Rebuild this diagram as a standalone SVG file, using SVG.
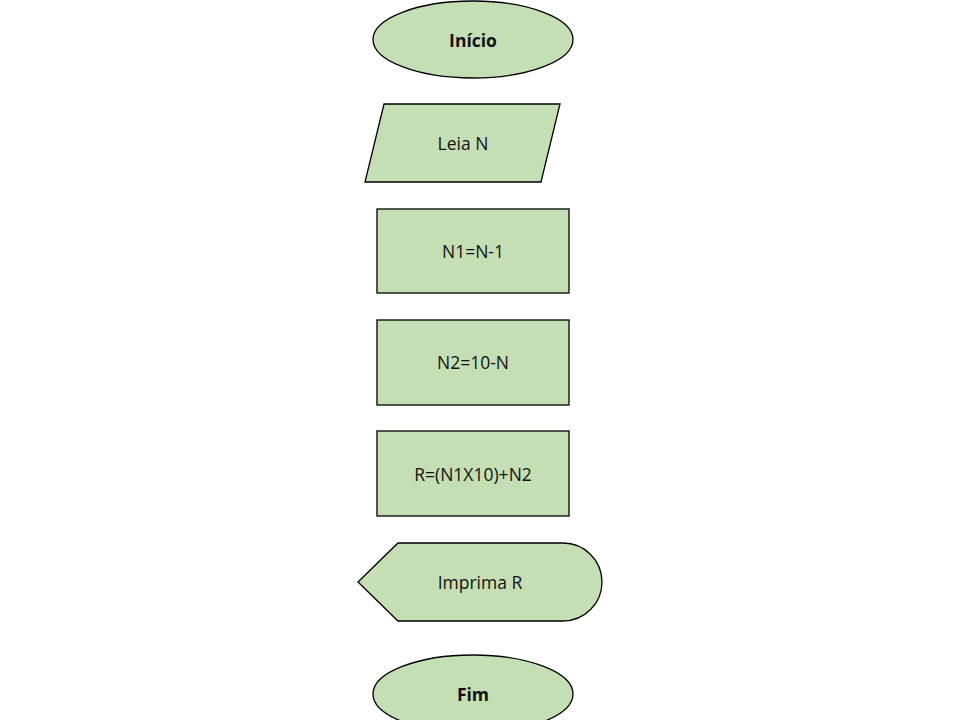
<svg xmlns="http://www.w3.org/2000/svg" width="960" height="720" viewBox="0 0 960 720">
<style>
.s{fill:#C5DFB4;stroke:#000;stroke-width:1.3}
.t{font-family:"Open Sans","Liberation Sans",sans-serif;font-size:17.5px;fill:#111;text-anchor:middle;dominant-baseline:central}
.b{font-weight:bold}
</style>
<rect width="960" height="720" fill="#fff"/>
<g id="inicio"><ellipse class="s" cx="473" cy="39.5" rx="100" ry="38.5"/><text class="t b" x="473" y="40">Início</text></g>
<g id="leia"><polygon class="s" points="384,104 560,104 541,182 365,182"/><text class="t" x="463" y="143">Leia N</text></g>
<g id="n1"><rect class="s" x="377" y="209" width="192" height="84"/><text class="t" x="473" y="251">N1=N-1</text></g>
<g id="n2"><rect class="s" x="377" y="320" width="192" height="85"/><text class="t" x="473" y="362">N2=10-N</text></g>
<g id="r"><rect class="s" x="377" y="431" width="192" height="85"/><text class="t" x="473" y="474">R=(N1X10)+N2</text></g>
<g id="imprima"><path class="s" d="M358,582 L398,543 L563,543 A39,39 0 0 1 563,621 L398,621 Z"/><text class="t" x="480" y="582">Imprima R</text></g>
<g id="fim"><ellipse class="s" cx="473" cy="694" rx="100" ry="39"/><text class="t b" x="473" y="694">Fim</text></g>
<g id="connectors"/>
</svg>
